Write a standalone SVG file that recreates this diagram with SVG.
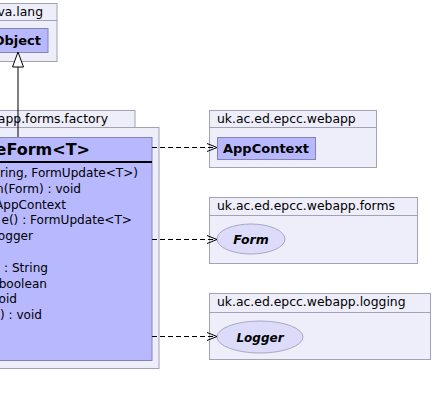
<svg xmlns="http://www.w3.org/2000/svg" width="432" height="406" viewBox="0 0 432 406">
<defs>
<style>
.pkg{fill:#EEEEFB;stroke:#A2A2B4;stroke-width:1}
.cls{fill:#B8B8FF;stroke:#8484B4;stroke-width:1}
.ell{fill:#DCDCFA;stroke:#A8A8C4;stroke-width:1}
.t{font-family:"DejaVu Sans","Liberation Sans",sans-serif;fill:#000}
.tab{font-size:12.4px}
.mem{font-size:12.1px}
.bold{font-weight:bold}
.dash{fill:none;stroke:#000;stroke-width:1;stroke-dasharray:5,3}
</style>
<marker id="vee" markerWidth="12" markerHeight="10" refX="10" refY="5" orient="auto" markerUnits="userSpaceOnUse">
<path d="M0,1 L10,5 L0,9" fill="none" stroke="#000" stroke-width="1"/>
</marker>
</defs>
<rect width="432" height="406" fill="#fff"/>
<g id="pkg-java-lang">
<rect class="pkg" x="-20" y="3.5" width="77" height="17"/>
<rect class="pkg" x="-20" y="20.5" width="77" height="41"/>
<text class="t tab" x="43" y="16" text-anchor="end">va.lang</text>
</g>
<g id="node-Object">
<rect class="cls" x="-20" y="28.5" width="68" height="24"/>
<text class="t bold" font-size="13" x="41" y="45" text-anchor="end">Object</text>
</g>
<g id="pkg-factory">
<rect class="pkg" x="-20" y="110.5" width="155" height="17"/>
<rect class="pkg" x="-20" y="127.5" width="179" height="241"/>
<text class="t tab" x="108" y="123" text-anchor="end">app.forms.factory</text>
</g>
<g id="pkg-webapp">
<rect class="pkg" x="209.5" y="110.5" width="167" height="17"/>
<rect class="pkg" x="209.5" y="127.5" width="167" height="40"/>
<text class="t tab" x="217" y="123">uk.ac.ed.epcc.webapp</text>
</g>
<g id="pkg-forms">
<rect class="pkg" x="209.5" y="197.5" width="208" height="18"/>
<rect class="pkg" x="209.5" y="215.5" width="208" height="48"/>
<text class="t tab" x="217" y="210">uk.ac.ed.epcc.webapp.forms</text>
</g>
<g id="pkg-logging">
<rect class="pkg" x="209.5" y="293.5" width="221" height="19"/>
<rect class="pkg" x="209.5" y="312.5" width="221" height="47"/>
<text class="t tab" x="217" y="306">uk.ac.ed.epcc.webapp.logging</text>
</g>
<g id="node-AppContext">
<rect class="cls" x="217.5" y="137.5" width="98" height="22"/>
<text class="t bold" font-size="13" x="223" y="152.5">AppContext</text>
</g>
<g id="node-Form">
<ellipse class="ell" cx="251" cy="239" rx="34" ry="15"/>
<text class="t bold" font-size="12.5" font-style="italic" x="251" y="243.5" text-anchor="middle">Form</text>
</g>
<g id="node-Logger">
<ellipse class="ell" cx="260" cy="337" rx="43" ry="16"/>
<text class="t bold" font-size="12" font-style="italic" x="260" y="341.5" text-anchor="middle">Logger</text>
</g>
<g id="node-BaseForm">
<rect class="cls" x="-20" y="137.5" width="172" height="223"/>
<line x1="-20" y1="162" x2="152" y2="162" stroke="#000" stroke-width="2"/>
<text class="t bold" font-size="16" x="90" y="155" text-anchor="end">eForm&lt;T&gt;</text>
<text class="t mem" x="138" y="177" text-anchor="end">ring, FormUpdate&lt;T&gt;)</text>
<text class="t mem" x="81" y="192.8" text-anchor="end">n(Form) : void</text>
<text class="t mem" x="66" y="208.6" text-anchor="end">AppContext</text>
<text class="t mem" x="132" y="224.4" text-anchor="end">e() : FormUpdate&lt;T&gt;</text>
<text class="t mem" x="33" y="240.2" text-anchor="end">ogger</text>
<text class="t mem" x="48" y="271.8" text-anchor="end"> : String</text>
<text class="t mem" x="47" y="287.6" text-anchor="end">boolean</text>
<text class="t mem" x="17" y="303.4" text-anchor="end">oid</text>
<text class="t mem" x="42" y="319.2" text-anchor="end">) : void</text>
</g>
<g id="connectors">
<line x1="18" y1="67" x2="18" y2="137" stroke="#000" stroke-width="1"/>
<polygon points="18,52 12.5,67 23.5,67" fill="#fff" stroke="#000" stroke-width="1"/>
<line class="dash" x1="152" y1="147.5" x2="217" y2="147.5" marker-end="url(#vee)"/>
<line class="dash" x1="152" y1="239.5" x2="217" y2="239.5" marker-end="url(#vee)"/>
<line class="dash" x1="152" y1="336.5" x2="217" y2="336.5" marker-end="url(#vee)"/>
</g>
</svg>
